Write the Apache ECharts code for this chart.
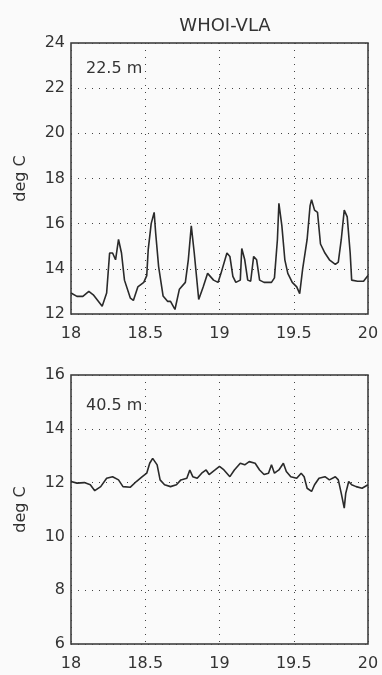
<!DOCTYPE html>
<html>
<head>
<meta charset="utf-8">
<script src="https://cdn.jsdelivr.net/npm/echarts@6/dist/echarts.min.js"></script>
<style>
  html, body { margin: 0; padding: 0; background: #fafafa; }
  #chart { width: 382px; height: 675px; }
</style>
</head>
<body>
<div id="chart"></div>
<script>
// 22.5 m sensor: time (day) / temperature (deg C)
var t1 = [18.00, 18.04, 18.08, 18.12, 18.15, 18.21, 18.24, 18.26, 18.28, 18.30, 18.32, 18.34, 18.36, 18.40, 18.42, 18.45, 18.49, 18.51, 18.52, 18.54, 18.56, 18.57, 18.59, 18.62, 18.65, 18.67, 18.70, 18.73, 18.77, 18.79, 18.81, 18.83, 18.86, 18.89, 18.92, 18.96, 18.99, 19.01, 19.05, 19.07, 19.09, 19.11, 19.14, 19.15, 19.17, 19.19, 19.21, 19.23, 19.25, 19.27, 19.30, 19.35, 19.37, 19.39, 19.40, 19.42, 19.44, 19.46, 19.49, 19.52, 19.54, 19.56, 19.59, 19.61, 19.62, 19.64, 19.66, 19.68, 19.71, 19.74, 19.78, 19.80, 19.82, 19.84, 19.86, 19.88, 19.89, 19.93, 19.97, 20.00];
var temp1 = [12.93, 12.78, 12.78, 13.0, 12.85, 12.34, 12.93, 14.7, 14.7, 14.4, 15.3, 14.7, 13.5, 12.7, 12.6, 13.2, 13.4, 13.7, 14.85, 16.0, 16.5, 15.6, 14.1, 12.8, 12.56, 12.56, 12.2, 13.1, 13.4, 14.4, 15.9, 14.7, 12.64, 13.2, 13.8, 13.5, 13.4, 13.8, 14.7, 14.55, 13.67, 13.4, 13.5, 14.9, 14.4, 13.5, 13.45, 14.55, 14.4, 13.5, 13.4, 13.4, 13.6, 15.3, 16.9, 15.9, 14.4, 13.8, 13.4, 13.2, 12.9, 14.0, 15.3, 16.8, 17.06, 16.6, 16.5, 15.1, 14.7, 14.4, 14.2, 14.3, 15.3, 16.6, 16.3, 14.7, 13.5, 13.45, 13.45, 13.7];

// 40.5 m sensor
var t2 = [18.00, 18.04, 18.09, 18.13, 18.16, 18.20, 18.24, 18.28, 18.32, 18.35, 18.40, 18.44, 18.48, 18.51, 18.53, 18.55, 18.58, 18.60, 18.63, 18.67, 18.71, 18.74, 18.78, 18.80, 18.82, 18.85, 18.88, 18.91, 18.93, 18.97, 19.00, 19.03, 19.07, 19.10, 19.14, 19.17, 19.20, 19.24, 19.27, 19.30, 19.33, 19.35, 19.37, 19.40, 19.43, 19.45, 19.48, 19.52, 19.55, 19.57, 19.59, 19.62, 19.64, 19.67, 19.71, 19.74, 19.78, 19.80, 19.82, 19.84, 19.85, 19.87, 19.89, 19.92, 19.96, 20.00];
var temp2 = [12.04, 11.98, 12.0, 11.92, 11.7, 11.85, 12.16, 12.22, 12.1, 11.85, 11.83, 12.04, 12.22, 12.35, 12.72, 12.9, 12.66, 12.1, 11.92, 11.85, 11.92, 12.1, 12.16, 12.47, 12.22, 12.16, 12.35, 12.47, 12.3, 12.47, 12.6, 12.47, 12.22, 12.47, 12.72, 12.66, 12.78, 12.72, 12.47, 12.3, 12.35, 12.66, 12.35, 12.47, 12.72, 12.41, 12.22, 12.16, 12.35, 12.22, 11.79, 11.67, 11.92, 12.16, 12.22, 12.1, 12.22, 12.1, 11.6, 11.05, 11.6, 12.04, 11.92, 11.85, 11.79, 11.92];

var xTicks = [18, 18.5, 19, 19.5, 20];

function pairs(xs, ys) {
  var out = [];
  for (var i = 0; i < xs.length; i++) out.push([xs[i], ys[i]]);
  return out;
}

var font = "DejaVu Sans";
var ink = "#333";

function xAxis(idx) {
  return {
    gridIndex: idx, type: "value", min: 18, max: 20, interval: 0.5,
    axisLine: { show: false }, axisTick: { show: false },
    axisLabel: { color: ink, fontFamily: font, fontSize: 16, margin: 12,
      formatter: function (v) { return xTicks.indexOf(v) >= 0 ? String(v) : ""; } },
    splitLine: { show: true, lineStyle: { type: [1, 6], color: "#444", width: 1 } }
  };
}

function yAxis(idx, min, max) {
  return {
    gridIndex: idx, type: "value", min: min, max: max, interval: 2,
    name: "deg C", nameLocation: "middle", nameGap: 42,
    nameTextStyle: { color: ink, fontFamily: font, fontSize: 16 },
    axisLine: { show: false }, axisTick: { show: false },
    axisLabel: { color: ink, fontFamily: font, fontSize: 16, margin: 6 },
    splitLine: { show: true, lineStyle: { type: [1, 6], color: "#444", width: 1 } }
  };
}

var chart = echarts.init(document.getElementById("chart"));
chart.setOption({
  backgroundColor: "#fafafa",
  animation: false,
  title: {
    text: "WHOI-VLA", left: 220, top: 12, textAlign: "center",
    textStyle: { color: ink, fontFamily: font, fontSize: 18, fontWeight: "normal" }
  },
  grid: [
    { left: 71, top: 43, width: 297, height: 271, show: true, borderColor: "#333", borderWidth: 1.5, backgroundColor: "transparent" },
    { left: 71, top: 375, width: 297, height: 269, show: true, borderColor: "#333", borderWidth: 1.5, backgroundColor: "transparent" }
  ],
  xAxis: [xAxis(0), xAxis(1)],
  yAxis: [yAxis(0, 12, 24), yAxis(1, 6, 16)],
  graphic: [
    { type: "text", left: 86, top: 61, style: { text: "22.5 m", fill: ink, font: "16px DejaVu Sans" } },
    { type: "text", left: 86, top: 398, style: { text: "40.5 m", fill: ink, font: "16px DejaVu Sans" } }
  ],
  series: [
    { type: "line", xAxisIndex: 0, yAxisIndex: 0, data: pairs(t1, temp1), showSymbol: false,
      lineStyle: { color: "#2a2a2a", width: 1.6 } },
    { type: "line", xAxisIndex: 1, yAxisIndex: 1, data: pairs(t2, temp2), showSymbol: false,
      lineStyle: { color: "#2a2a2a", width: 1.6 } }
  ]
});
</script>
</body>
</html>
